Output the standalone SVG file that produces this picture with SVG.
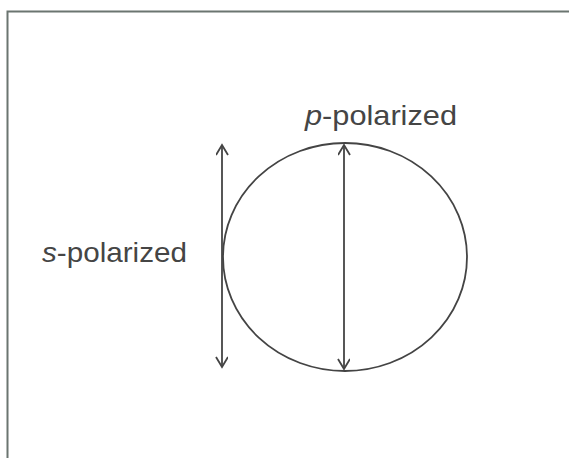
<svg xmlns="http://www.w3.org/2000/svg" width="569" height="458" viewBox="0 0 569 458">
<style>
.lbl{font-family:"Liberation Sans",Arial,sans-serif;font-size:28px;fill:#454545}
.ln{stroke:#444;stroke-width:1.8;fill:none}
</style>
<defs>
<marker id="ah" markerWidth="14" markerHeight="14" refX="11" refY="6" orient="auto-start-reverse" markerUnits="userSpaceOnUse">
<path d="M1,0 L11,6 L1,12" fill="none" stroke="#444" stroke-width="1.8"/>
</marker>
</defs>
<rect width="569" height="458" fill="#fff"/>
<path d="M7.5,470 V11.5 H580" fill="none" stroke="#6b7570" stroke-width="2"/>
<g id="circle"><ellipse cx="345" cy="257" rx="122" ry="114" class="ln"/></g>
<g id="connectors">
<line x1="222" y1="145" x2="222" y2="367" class="ln" marker-start="url(#ah)" marker-end="url(#ah)"/>
<line x1="344" y1="145" x2="344" y2="369" class="ln" marker-start="url(#ah)" marker-end="url(#ah)"/>
</g>
<g id="label-p"><text x="305" y="125" class="lbl" textLength="152" lengthAdjust="spacingAndGlyphs"><tspan font-style="italic">p</tspan>-polarized</text></g>
<g id="label-s"><text x="42" y="262" class="lbl" textLength="145" lengthAdjust="spacingAndGlyphs"><tspan font-style="italic">s</tspan>-polarized</text></g>
</svg>
